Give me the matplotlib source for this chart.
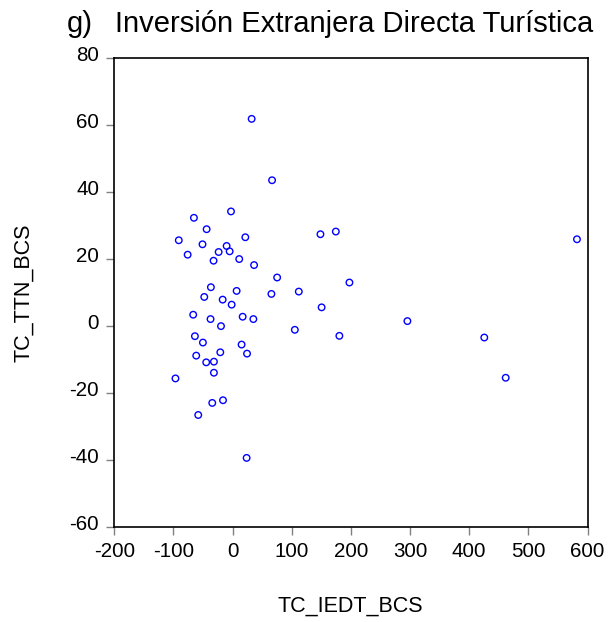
import matplotlib
matplotlib.use("Agg")
import matplotlib.pyplot as plt
import matplotlib.transforms as mtransforms

plt.rcParams['font.family'] = ['Liberation Sans', 'DejaVu Sans']
plt.rcParams['axes.unicode_minus'] = False

tc_iedt_bcs = [32.2, 66.7, -2.7, -65.4, -43.9, -91, 21.5, 148.5, 174.5, -50.9, -10.1, -23.6, -5.0, -76,
               -32.2, 11.2, 36.3, 75.3, 197.5, -36.7, 6.8, 65.6, 111.9, -47.9, -16.8, -1.6, 150.5, -66.6,
               -37.3, 17, 35.1, -19.6, 105.2, -63.7, 180.5, -50.2, 15.2, -20.8, 24.4, -61.5,
               -44.6, -31.6, -31.6, -96.6, -16.2, -34.4, -58.1, 23.7, 582.2, 295.5, 425.5, 461.7]
tc_ttn_bcs = [61.7, 43.4, 34.1, 32.2, 28.8, 25.5, 26.4, 27.3, 28.1, 24.3, 23.8, 22.0, 22.2, 21.2,
              19.4, 19.9, 18.1, 14.4, 12.9, 11.5, 10.4, 9.5, 10.2, 8.6, 7.8, 6.3, 5.5, 3.3,
              2.0, 2.7, 2.0, -0.1, -1.2, -3.1, -3.0, -5.0, -5.6, -7.9, -8.3, -8.9,
              -10.9, -10.7, -14.0, -15.7, -22.2, -23.0, -26.6, -39.4, 25.8, 1.4, -3.5, -15.5]

x_ticks = [-200, -100, 0, 100, 200, 300, 400, 500, 600]
y_ticks = [-60, -40, -20, 0, 20, 40, 60, 80]

W, H = 608, 622
fig = plt.figure(figsize=(W / 100, H / 100), dpi=100)
ax = fig.add_axes([114.3 / W, 1 - 527 / H, 473.2 / W, 469.5 / H])
ax.scatter(tc_iedt_bcs, tc_ttn_bcs, s=22, facecolors='none', edgecolors='#0000ff', linewidths=1.0)
ax.set_xlim(-200, 600)
ax.set_ylim(-60, 80)
ax.set_xticks(x_ticks)
ax.set_yticks(y_ticks)
ax.tick_params(direction='out', length=6, width=1.0, color='#808080', labelsize=14.8)
ax.tick_params(axis='x', pad=5)
ax.tick_params(axis='y', pad=5)
offset = mtransforms.ScaledTranslation(0, 4 / 100, fig.dpi_scale_trans)
for lab in ax.get_yticklabels():
    lab.set_transform(lab.get_transform() + offset)
for s in ax.spines.values():
    s.set_linewidth(1.2)
    s.set_color('black')

fig.text(350.7 / W, 1 - 606 / H, 'TC_IEDT_BCS', fontsize=15.5, ha='center', va='center')
fig.text(24 / W, 1 - 293 / H, 'TC_TTN_BCS', fontsize=15.5, ha='center', va='center', rotation=90)
fig.text(66.7 / W, 1 - 32 / H, 'g)', fontsize=21, ha='left', va='baseline')
fig.text(593 / W, 1 - 32 / H, 'Inversión Extranjera Directa Turística', fontsize=21, ha='right', va='baseline')

fig.savefig('out.png', dpi=100)
